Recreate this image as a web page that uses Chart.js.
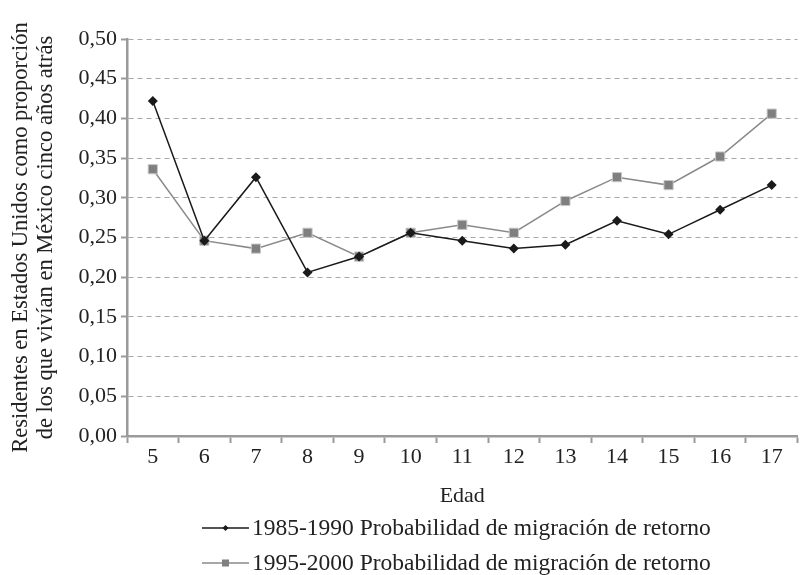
<!DOCTYPE html>
<html><head><meta charset="utf-8">
<script src="https://cdn.jsdelivr.net/npm/chart.js@4/dist/chart.umd.min.js"></script>
<style>html,body{margin:0;padding:0;background:#fff}#wrap{width:805px;height:575px}</style>
</head><body><div id="wrap"><canvas id="c" width="805" height="575"></canvas></div>
<script>
const edades = ['5','6','7','8','9','10','11','12','13','14','15','16','17'];
const serie1985 = [0.422,0.246,0.326,0.206,0.226,0.256,0.246,0.236,0.241,0.271,0.254,0.285,0.316];
const serie1995 = [0.336,0.246,0.236,0.256,0.226,0.256,0.266,0.256,0.296,0.326,0.316,0.352,0.406];
const nombres = ['1985-1990 Probabilidad de migración de retorno','1995-2000 Probabilidad de migración de retorno'];
const yTitulo = ['Residentes en Estados Unidos como proporción','de los que vivían en México cinco años atrás'];
const xTitulo = 'Edad';

const FONT = "'Liberation Serif', 'Times New Roman', serif";
const AXIS = '#9a9a9a';

const legendPlugin = {
  id: 'customLegend',
  afterDraw(chart) {
    const ctx = chart.ctx;
    ctx.save();
    chart.data.datasets.forEach((ds, i) => {
      const y = 528 + i * 35;
      const x0 = 202, x1 = 249;
      ctx.strokeStyle = ds.borderColor;
      ctx.lineWidth = 1.5;
      ctx.beginPath(); ctx.moveTo(x0, y); ctx.lineTo(x1, y); ctx.stroke();
      ctx.fillStyle = ds.pointBackgroundColor;
      const cx = (x0 + x1) / 2;
      if (ds.pointStyle === 'rectRot') {
        ctx.beginPath(); ctx.moveTo(cx, y - 3); ctx.lineTo(cx + 3, y); ctx.lineTo(cx, y + 3); ctx.lineTo(cx - 3, y); ctx.closePath(); ctx.fill();
      } else {
        ctx.fillRect(cx - 3.5, y - 3.5, 7, 7);
      }
      ctx.fillStyle = '#222';
      ctx.font = '23.5px ' + FONT;
      ctx.textBaseline = 'middle';
      ctx.textAlign = 'left';
      ctx.fillText(ds.label, x1 + 3, y + 1);
    });
    ctx.restore();
  }
};

new Chart(document.getElementById('c'), {
  type: 'line',
  data: {
    labels: edades,
    datasets: [
      { label: nombres[0], data: serie1985, borderColor: '#1a1a1a', borderWidth: 1.5,
        pointStyle: 'rectRot', pointRadius: 5, pointBackgroundColor: '#1a1a1a', pointBorderColor: '#1a1a1a', pointBorderWidth: 0, tension: 0 },
      { label: nombres[1], data: serie1995, borderColor: '#8a8a8a', borderWidth: 1.5,
        pointStyle: 'rect', pointRadius: 6.5, pointBackgroundColor: '#7f7f7f', pointBorderColor: '#c8c8c8', pointBorderWidth: 1, tension: 0 }
    ]
  },
  options: {
    responsive: false,
    animation: false,
    devicePixelRatio: 1,
    layout: { padding: { top: 39, right: 2, bottom: 66, left: 0 } },
    plugins: { legend: { display: false }, tooltip: { enabled: false } },
    scales: {
      x: {
        type: 'category',
        offset: true,
        grid: { display: true, drawOnChartArea: false, drawTicks: true, offset: true, tickLength: 7, tickColor: AXIS, tickWidth: 2 },
        border: { color: AXIS, width: 2.5 },
        ticks: { color: '#222', font: { family: FONT, size: 22 }, padding: 1, maxRotation: 0, autoSkip: false },
        title: { display: true, text: xTitulo, color: '#222', font: { family: FONT, size: 22 }, padding: { top: 0, bottom: 0 } },
        afterFit(s) { s.height = 575 - 436 - 66; }
      },
      y: {
        min: 0, max: 0.5,
        grid: { color: '#a8a8a8', lineWidth: 1, tickLength: 6, tickColor: AXIS, tickWidth: 2, tickBorderDash: [] },
        border: { color: AXIS, width: 2.5, dash: [5, 4] },
        ticks: { stepSize: 0.05, color: '#222', font: { family: FONT, size: 22 }, padding: 4,
          callback: v => v.toFixed(2).replace('.', ',') },
        title: { display: true, text: yTitulo, color: '#222', font: { family: FONT, size: 22.5, lineHeight: 1.1 }, padding: { top: 9, bottom: 0 } },
        afterFit(s) { s.width = 127; }
      }
    }
  },
  plugins: [legendPlugin]
});
</script></body></html>
